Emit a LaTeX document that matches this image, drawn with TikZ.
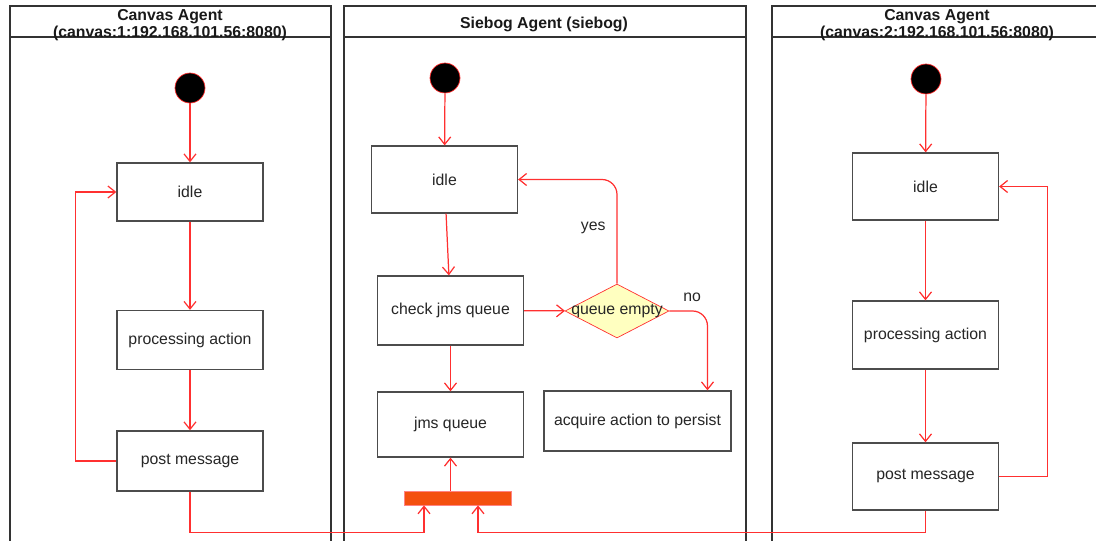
\documentclass[tikz,border=0pt]{standalone}
\usepackage{fontspec}
\setmainfont{Liberation Sans}
\usepackage{tikz}
\usepackage{xcolor}
\usetikzlibrary{arrows.meta,shapes.geometric}

\definecolor{flowred}{HTML}{FF3030}
\definecolor{forkfill}{HTML}{F4500F}
\definecolor{decfill}{HTML}{FFFFC0}
\definecolor{laneline}{HTML}{333333}

\tikzset{
    >={Straight Barb[length=1.5mm,width=2.4mm]} % Default arrow tip
}
\tikzstyle{lane}=[
    draw = laneline,
    line width = 0.7pt
]
\tikzstyle{title}=[
    font = \fontsize{9}{9.8}\selectfont\bfseries,
    align = center,
    text = black!90
]
\tikzstyle{action}=[
    draw = black!70,
    line width = 0.75pt,
    fill = white,
    font = \fontsize{9}{11}\selectfont,
    text = black!85,
    minimum width = 2.92cm,
    minimum height = 1.34cm
]
\tikzstyle{start}=[
    draw = flowred,
    circle,
    fill = black,
    inner sep = 0cm,
    minimum width = 0.6cm
]
\tikzstyle{decision}=[
    draw = flowred,
    diamond,
    fill = decfill,
    inner sep = 0cm,
    minimum width = 2.08cm,
    minimum height = 1.08cm
]
\tikzstyle{flow}=[
    flowred,
    line width = 0.7pt,
    ->
]

\begin{document}
\begin{tikzpicture}[x=0.02cm, y=-0.02cm]
    \useasboundingbox (0, 0) rectangle (1096, 541);

    % swimlanes
    \draw [lane] (10, 560) |- (331, 6) -- (331, 560);
    \draw [lane] (10, 37) -- (331, 37);
    \draw [lane] (344, 560) |- (746, 6) -- (746, 560);
    \draw [lane] (344, 37) -- (746, 37);
    \draw [lane] (772, 560) |- (1110, 6);
    \draw [lane] (772, 37) -- (1110, 37);

    \draw node [title] (head1) at (170, 25.5) {Canvas Agent\\(canvas:1:192.168.101.56:8080)};
    \draw node [title] (head2) at (544, 24) {Siebog Agent (siebog)};
    \draw node [title] (head3) at (937, 25.5) {Canvas Agent\\(canvas:2:192.168.101.56:8080)};

    % first canvas agent
    \draw node [start] (start1) at (190, 88) {};
    \draw node [action, minimum height = 1.16cm] (idle1) at (190, 192) {idle};
    \draw node [action, minimum height = 1.18cm] (proc1) at (190, 340) {processing action};
    \draw node [action, minimum height = 1.2cm] (post1) at (190, 461) {post message};

    % siebog agent
    \draw node [start] (start2) at (445, 78) {};
    \draw node [action] (idle2) at (444.5, 179.5) {idle};
    \draw node [action, minimum height = 1.38cm] (check) at (450.5, 310.5) {check jms queue};
    \draw node [decision, label = {[font = \fontsize{9}{11}\selectfont, text = black!85]center:queue empty}] (empty) at (617, 311) {};
    \draw node [action, minimum width = 3.74cm, minimum height = 1.2cm] (acquire) at (637.5, 421) {acquire action to persist};
    \draw node [action, minimum height = 1.3cm] (jms) at (450.5, 424.5) {jms queue};
    \draw node [draw = flowred!60, fill = forkfill, minimum width = 2.14cm, minimum height = 0.28cm, inner sep = 0cm] (fork) at (458, 498) {};

    % second canvas agent
    \draw node [start] (start3) at (926, 79) {};
    \draw node [action] (idle3) at (925.5, 186.5) {idle};
    \draw node [action, minimum height = 1.36cm] (proc3) at (925.5, 335) {processing action};
    \draw node [action] (post3) at (925.5, 476.5) {post message};

    \draw [flow] (start1) -- (idle1);
    \draw [flow] (idle1) -- (proc1);
    \draw [flow] (proc1) -- (post1);
    \draw [flow] (post1.west) -- ++(-41, 0) |- (idle1.west);
    \draw [flow] (post1.south) -- ++(0, 41) -| ([xshift = -0.68cm]fork.south);

    \draw [flow] (start2) -- (idle2);
    \draw [flow] (idle2) -- (check);
    \draw [flow] (check) -- (empty);
    \draw [flow, rounded corners = 0.3cm] (empty.north) |- (idle2.east)
        node [pos = 0.27, left = 0.1cm, font = \fontsize{9}{11}\selectfont, text = black!85] (yes) {yes};
    \draw [flow, rounded corners = 0.3cm] (empty.east) -| ([xshift = 1.4cm]acquire.north)
        node [pos = 0.3, above = 0.05cm, font = \fontsize{9}{11}\selectfont, text = black!85] (no) {no};
    \draw [flow] (check) -- (jms);
    \draw [flow] (fork.north -| jms.south) -- (jms.south);

    \draw [flow] (start3) -- (idle3);
    \draw [flow] (idle3) -- (proc3);
    \draw [flow] (proc3) -- (post3);
    \draw [flow] (post3.east) -- ++(48, 0) |- (idle3.east);
    \draw [flow] (post3.south) -- ++(0, 22) -| ([xshift = 0.4cm]fork.south);
\end{tikzpicture}
\end{document}
